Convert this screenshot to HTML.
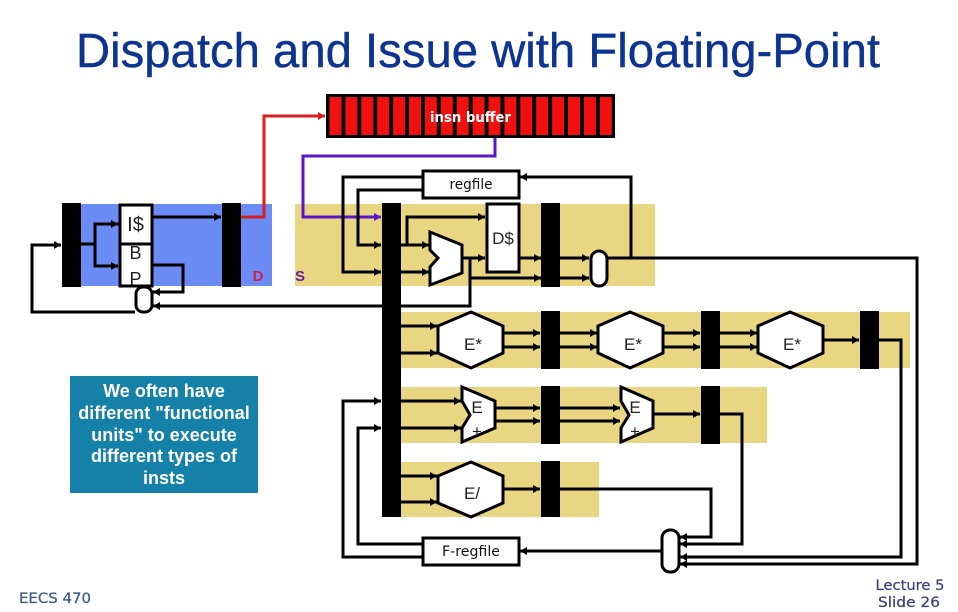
<!DOCTYPE html>
<html><head><meta charset="utf-8"><style>
html,body{margin:0;padding:0;background:#fff}
svg{display:block}
text{font-family:"Liberation Sans","DejaVu Sans",sans-serif}
.w{fill:none;stroke:#000;stroke-width:3;stroke-linejoin:miter}
.t{stroke:#000;stroke-width:3;fill:#fff}
.l{font-size:17px;fill:#222}
.s{font-family:"DejaVu Sans",sans-serif;font-size:14.500px;fill:#111}
</style></head><body>
<svg width="958" height="612" viewBox="0 0 958 612" xmlns="http://www.w3.org/2000/svg">
<defs>
<marker id="a" markerUnits="userSpaceOnUse" markerWidth="9" markerHeight="10" refX="8" refY="5" orient="auto"><path d="M1 1L8 5L1 9Z" fill="#000"/></marker>
<marker id="r" markerUnits="userSpaceOnUse" markerWidth="9" markerHeight="10" refX="8" refY="5" orient="auto"><path d="M1 1L8 5L1 9Z" fill="#d81e1e"/></marker>
<marker id="p" markerUnits="userSpaceOnUse" markerWidth="9" markerHeight="10" refX="8" refY="5" orient="auto"><path d="M1 1L8 5L1 9Z" fill="#5a16c8"/></marker>
</defs>
<rect width="958" height="612" fill="#fff"/>
<text x="76" y="67" font-size="48" fill="#0c3490" stroke="#0c3490" stroke-width="0.4" textLength="804" lengthAdjust="spacingAndGlyphs">Dispatch and Issue with Floating-Point</text>

<!-- stage backgrounds -->
<rect x="62" y="204" width="210" height="82" fill="#6c8cf5"/>
<rect x="295" y="204" width="360" height="82" fill="#e9d683"/>
<rect x="401" y="312" width="509" height="56" fill="#e9d683"/>
<rect x="401" y="387" width="366" height="56" fill="#e9d683"/>
<rect x="401" y="462" width="198" height="55" fill="#e9d683"/>

<!-- insn buffer -->
<rect x="326" y="94" width="289" height="44" fill="#000"/>
<g fill="#f01010">
<rect x="329.500" y="97" width="12" height="38"/><rect x="345.400" y="97" width="12" height="38"/><rect x="361.300" y="97" width="12" height="38"/><rect x="377.200" y="97" width="12" height="38"/><rect x="393.100" y="97" width="12" height="38"/><rect x="409" y="97" width="12" height="38"/><rect x="424.900" y="97" width="12" height="38"/><rect x="440.800" y="97" width="12" height="38"/><rect x="456.700" y="97" width="12" height="38"/><rect x="472.600" y="97" width="12" height="38"/><rect x="488.500" y="97" width="12" height="38"/><rect x="504.400" y="97" width="12" height="38"/><rect x="520.300" y="97" width="12" height="38"/><rect x="536.200" y="97" width="12" height="38"/><rect x="552.100" y="97" width="12" height="38"/><rect x="568" y="97" width="12" height="38"/><rect x="583.900" y="97" width="12" height="38"/><rect x="599.800" y="97" width="12" height="38"/>
</g>
<text x="470.500" y="122" style="font-family:'DejaVu Sans',sans-serif" font-size="14.500" font-weight="bold" fill="#fff" text-anchor="middle" textLength="81" lengthAdjust="spacingAndGlyphs">insn buffer</text>

<!-- wires -->
<g class="w">
<path d="M241 217H264V116H325" style="stroke:#d81e1e" marker-end="url(#r)"/>
<path d="M495 138V156H303V217H381" style="stroke:#5a16c8" marker-end="url(#p)"/>
<path d="M81 244H95"/>
<path d="M119 224H95V266H118" marker-end="url(#a)"/>
<path d="M95 224H118" marker-end="url(#a)"/>
<path d="M152 217H221" marker-end="url(#a)"/>
<path d="M152 265H183V292H153" marker-end="url(#a)"/>
<path d="M470 258V306H153" marker-end="url(#a)"/>
<path d="M135 312H32V245H61" marker-end="url(#a)"/>
<path d="M422 177H343V272H381" marker-end="url(#a)"/>
<path d="M422 190H358V245H381" marker-end="url(#a)"/>
<path d="M631 258V177H520" marker-end="url(#a)"/>
<path d="M401 245H429" marker-end="url(#a)"/>
<path d="M401 272H429" marker-end="url(#a)"/>
<path d="M407 245V217H485" marker-end="url(#a)"/>
<path d="M462 258H485" marker-end="url(#a)"/>
<path d="M470 278H541" marker-end="url(#a)"/>
<path d="M519 258H541" marker-end="url(#a)"/>
<path d="M560 258H589" marker-end="url(#a)"/>
<path d="M560 278H589" marker-end="url(#a)"/>
<path d="M607 258H917V564H680" marker-end="url(#a)"/>
<path d="M401 326H437" marker-end="url(#a)"/>
<path d="M401 353H437" marker-end="url(#a)"/>
<path d="M503 333H540" marker-end="url(#a)"/>
<path d="M503 347H540" marker-end="url(#a)"/>
<path d="M560 333H597" marker-end="url(#a)"/>
<path d="M560 347H597" marker-end="url(#a)"/>
<path d="M663 333H700" marker-end="url(#a)"/>
<path d="M663 347H700" marker-end="url(#a)"/>
<path d="M720 333H757" marker-end="url(#a)"/>
<path d="M720 347H757" marker-end="url(#a)"/>
<path d="M823 340H859" marker-end="url(#a)"/>
<path d="M879 340H901V557H680" marker-end="url(#a)"/>
<path d="M401 401H461" marker-end="url(#a)"/>
<path d="M401 428H461" marker-end="url(#a)"/>
<path d="M495 408H540" marker-end="url(#a)"/>
<path d="M495 421H540" marker-end="url(#a)"/>
<path d="M560 408H620" marker-end="url(#a)"/>
<path d="M560 421H620" marker-end="url(#a)"/>
<path d="M653 414H700" marker-end="url(#a)"/>
<path d="M720 414H742V544H680" marker-end="url(#a)"/>
<path d="M401 476H437" marker-end="url(#a)"/>
<path d="M401 502H437" marker-end="url(#a)"/>
<path d="M503 489H540" marker-end="url(#a)"/>
<path d="M560 489H711V537H680" marker-end="url(#a)"/>
<path d="M662 551H520" marker-end="url(#a)"/>
<path d="M422 544H358V428H381" marker-end="url(#a)"/>
<path d="M422 557H343V401H381" marker-end="url(#a)"/>
</g>

<!-- latches -->
<g fill="#000">
<rect x="62" y="203" width="19" height="84"/>
<rect x="222" y="203" width="19" height="84"/>
<rect x="382" y="203" width="19" height="314"/>
<rect x="541" y="203" width="19" height="84"/>
<rect x="541" y="311" width="19" height="58"/>
<rect x="701" y="311" width="19" height="58"/>
<rect x="860" y="311" width="19" height="58"/>
<rect x="541" y="386" width="19" height="58"/>
<rect x="701" y="386" width="19" height="58"/>
<rect x="541" y="461" width="19" height="56"/>
</g>

<!-- left block -->
<rect class="t" x="120" y="205" width="32" height="81"/>
<path class="w" d="M120 244H152"/>
<text x="135.500" y="231" style="font-size:20px;fill:#222" text-anchor="middle">I$</text>
<text x="135.500" y="259" style="font-size:18px;fill:#222" text-anchor="middle">B</text>
<text x="135.500" y="285" style="font-size:18px;fill:#222" text-anchor="middle">P</text>
<rect class="t" x="136" y="287" width="16" height="25" rx="7"/>
<text x="258" y="281" font-size="15" font-weight="bold" fill="#d0204a" text-anchor="middle">D</text>
<text x="300" y="281" font-size="15" font-weight="bold" fill="#6a1ea8" text-anchor="middle">S</text>

<!-- boxes -->
<rect class="t" x="423" y="171" width="96" height="27"/>
<text x="471" y="189" class="s" text-anchor="middle" textLength="43" lengthAdjust="spacingAndGlyphs">regfile</text>
<rect class="t" x="487" y="204" width="32" height="68"/>
<text x="503" y="244" class="l" text-anchor="middle">D$</text>
<polygon class="t" points="430,232 462,245 462,273 430,285 430,267 438,258 430,250"/>
<rect class="t" x="591" y="251" width="16" height="35" rx="8"/>

<polygon class="t" points="438,326 471,312 503,326 503,353 471,368 438,353"/>
<text x="473" y="350" class="l" text-anchor="middle">E*</text>
<polygon class="t" points="598,326 630,312 663,326 663,353 630,368 598,353"/>
<text x="633" y="350" class="l" text-anchor="middle">E*</text>
<polygon class="t" points="758,326 790,312 823,326 823,353 790,368 758,353"/>
<text x="792" y="350" class="l" text-anchor="middle">E*</text>

<polygon class="t" points="462,387 495,401 495,428 462,442 462,428 470,415 462,401"/>
<text x="477" y="413" class="l" text-anchor="middle">E</text>
<text x="477" y="437" class="l" text-anchor="middle">+</text>
<polygon class="t" points="621,387 653,401 653,428 621,442 621,428 629,415 621,401"/>
<text x="635" y="413" class="l" text-anchor="middle">E</text>
<text x="635" y="437" class="l" text-anchor="middle">+</text>

<polygon class="t" points="438,476 471,462 503,476 503,503 471,517 438,503"/>
<text x="472" y="499" class="l" text-anchor="middle">E/</text>

<rect class="t" x="423" y="538" width="96" height="27"/>
<text x="471" y="556" class="s" text-anchor="middle" textLength="58" lengthAdjust="spacingAndGlyphs">F-regfile</text>
<rect class="t" x="662" y="530" width="17" height="42" rx="8"/>

<!-- callout -->
<rect x="70" y="376" width="188" height="117" fill="#1580a8"/>
<g font-weight="bold" fill="#fff" text-anchor="middle" style="font-size:18px">
<text x="164" y="397">We often have</text>
<text x="164" y="419">different "functional</text>
<text x="164" y="441">units" to execute</text>
<text x="164" y="462">different types of</text>
<text x="164" y="484">insts</text>
</g>

<!-- footer -->
<text x="19" y="603" style="font-family:'DejaVu Sans',sans-serif" font-size="14" fill="#3c5a84" stroke="#3c5a84" stroke-width="0.25" textLength="72" lengthAdjust="spacingAndGlyphs">EECS 470</text>
<text x="910" y="590" style="font-family:'DejaVu Sans',sans-serif" font-size="14" fill="#3e4278" stroke="#3e4278" stroke-width="0.25" text-anchor="middle" textLength="69" lengthAdjust="spacingAndGlyphs">Lecture 5</text>
<text x="909" y="607" style="font-family:'DejaVu Sans',sans-serif" font-size="14" fill="#3e4278" stroke="#3e4278" stroke-width="0.25" text-anchor="middle" textLength="62" lengthAdjust="spacingAndGlyphs">Slide 26</text>
</svg>
</body></html>
